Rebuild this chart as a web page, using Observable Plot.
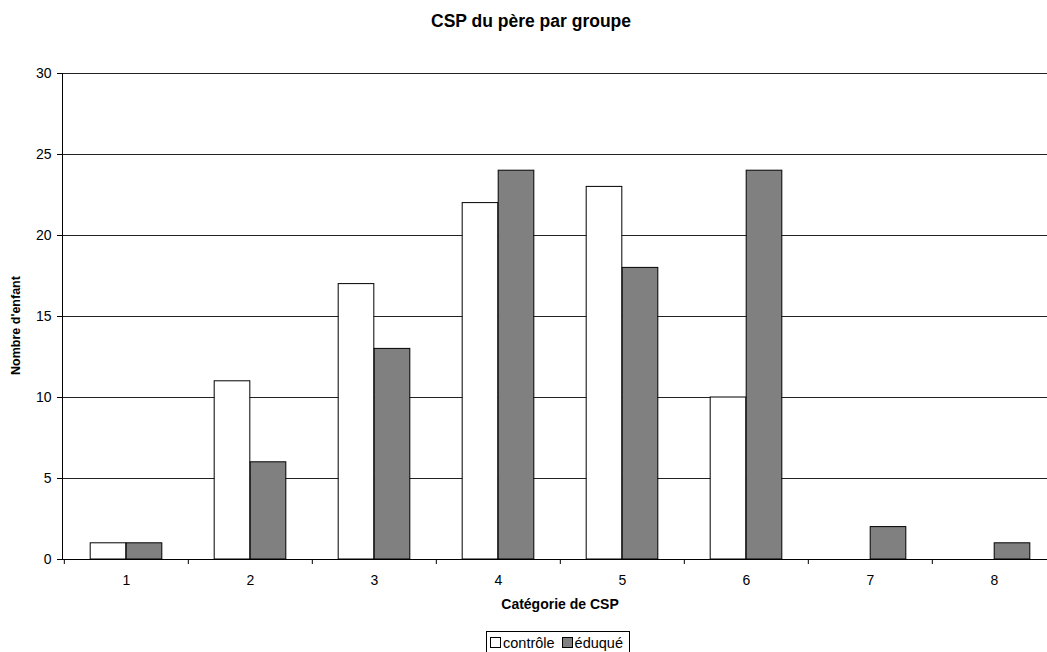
<!DOCTYPE html>
<html>
<head>
<meta charset="utf-8">
<script src="https://cdn.jsdelivr.net/npm/d3@7"></script>
<script src="https://cdn.jsdelivr.net/npm/@observablehq/plot@0.6"></script>
<style>
  html, body { margin: 0; padding: 0; background: #fff; overflow: hidden; }
  #wrap { position: relative; width: 1047px; height: 652px; overflow: hidden; font-family: "Liberation Sans", Arial, sans-serif; }
  #title { height: 45px; box-sizing: border-box; padding-top: 11px; width: 1062px; text-align: center;
           font-size: 17.5px; font-weight: bold; line-height: 20px; color: #000; }
  #chart svg { display: block; max-width: none !important; }
  #legend { position: absolute; left: 486px; top: 631px; border: 1px solid #000; height: 24px; box-sizing: border-box;
            padding: 1px 6px 0 3px; font-size: 14.5px; line-height: 20px; color: #000; white-space: nowrap; }
  .sw { display: inline-block; width: 9px; height: 9px; border: 1px solid #000; margin-right: 2px; vertical-align: 0px; }
  .gap { display: inline-block; width: 7px; }
</style>
</head>
<body>
<div id="wrap">
  <div id="title">CSP du père par groupe</div>
  <div id="chart"></div>
  <div id="legend"><span class="sw" style="background:#fff"></span>contrôle<span class="gap"></span><span class="sw" style="background:#808080"></span>éduqué</div>
</div>
<script>
// Catégories socio-professionnelles du père et effectifs par groupe
const categories = ["1", "2", "3", "4", "5", "6", "7", "8"];
const controle = [1, 11, 17, 22, 23, 10, 0, 0];
const eduque = [1, 6, 13, 24, 18, 24, 2, 1];
const yTicks = [0, 5, 10, 15, 20, 25, 30];
const gridTicks = [5, 10, 15, 20, 25, 30];

const rowsControle = categories.map((c, i) => ({cat: c, value: controle[i]}));
const rowsEduque = categories.map((c, i) => ({cat: c, value: eduque[i]}));

const W = 1057, H = 580;
const mL = 62, mR = 0, mT = 28, mB = 66;
const step = (W - mL - mR) / categories.length;   // largeur d'une catégorie
const barW = 36;                                   // largeur d'une barre
const half = step / 2;

const chart = Plot.plot({
  width: W,
  height: H,
  marginLeft: mL,
  marginRight: mR,
  marginTop: mT,
  marginBottom: mB,
  style: {fontFamily: "'Liberation Sans', Arial, sans-serif", fontSize: "14px", color: "#000", background: "#fff", overflow: "hidden", maxWidth: "none"},
  x: {type: "band", domain: categories, padding: 0, axis: null, label: null},
  y: {domain: [0, 30], axis: null, label: null},
  marks: [
    // lignes de quadrillage horizontales
    Plot.ruleY(gridTicks, {stroke: "#222", strokeWidth: 1}),
    // barres du groupe contrôle (blanches) puis du groupe éduqué (grises)
    Plot.barY(rowsControle, {x: "cat", y: "value", fill: "#fff", stroke: "#000", strokeWidth: 1,
      insetLeft: half - barW, insetRight: half}),
    Plot.barY(rowsEduque, {x: "cat", y: "value", fill: "#808080", stroke: "#000", strokeWidth: 1,
      insetLeft: half, insetRight: half - barW}),
    // axes
    Plot.ruleY([0], {stroke: "#000"}),
    Plot.frame({anchor: "left", stroke: "#000"}),
    Plot.axisY({ticks: yTicks, tickSize: 5, tickPadding: 6, fontSize: 14, stroke: "#000", label: null}),
    // graduations de l'axe X entre les catégories
    Plot.axisX({tickSize: 5, tickFormat: () => "", dx: -half, stroke: "#000", label: null}),
    // libellés des catégories
    Plot.axisX({tickSize: 0, tickPadding: 16, fontSize: 14, label: null}),
    // titres des axes
    Plot.text(["Catégorie de CSP"], {frameAnchor: "bottom", textAnchor: "middle", lineAnchor: "middle",
      dy: 45, fontWeight: "bold", fontSize: 14}),
    Plot.text(["Nombre d'enfant"], {frameAnchor: "left", textAnchor: "middle", lineAnchor: "middle",
      rotate: -90, dx: -47, dy: 9, fontWeight: "bold", fontSize: 12.5})
  ]
});

document.getElementById("chart").appendChild(chart);
</script>
</body>
</html>
